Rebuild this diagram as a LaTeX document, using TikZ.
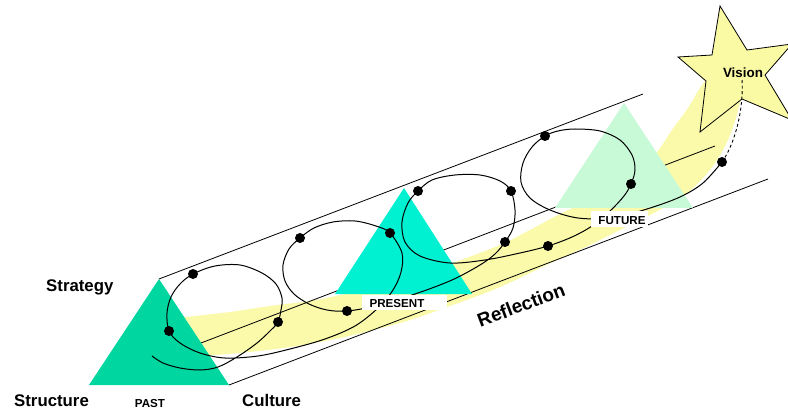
\documentclass[tikz,border=0pt]{standalone}
\usepackage{fontspec}
\setmainfont{Liberation Sans}
\definecolor{bandyellow}{RGB}{250,250,170}
\definecolor{staryellow}{RGB}{250,250,165}
\definecolor{pastgreen}{RGB}{0,214,160}
\definecolor{presentcyan}{RGB}{0,240,210}
\definecolor{futuremint}{RGB}{200,250,215}
\tikzset{
  prismline/.style={black, line width=0.8pt},
  coil/.style={black, line width=1pt},
  blackdot/.style={circle, fill=black, inner sep=0pt, minimum size=10pt},
  biglabel/.style={font=\bfseries\fontsize{16.8}{19}\selectfont, inner sep=0pt},
  smalllabel/.style={font=\bfseries\fontsize{11.6}{13}\selectfont, inner sep=0pt},
  whitebox/.style={fill=white}
}
\begin{document}
\begin{tikzpicture}[x=1pt,y=-1pt]
\clip (0,0) rectangle (788,409);
\fill[white] (0,0) rectangle (788,409);

% yellow reflection band
\fill[bandyellow]
  plot[smooth, tension=0.6] coordinates {(150,324) (187,317) (230,312) (270,306) (310,301) (345,294) (400,281) (450,264) (500,245) (530,230) (560,214) (590,200) (620,183) (640,168) (657,152) (672,130) (688,108) (700,88) (712,72)}
  -- (745,90)
  -- plot[smooth, tension=0.6] coordinates {(740,102) (736,118) (728,140) (717,160) (703,178) (683,196) (650,215) (620,230) (590,245) (557,260) (500,287) (447,307) (400,323) (340,338) (290,347) (240,353) (200,356) (165,358)}
  -- cycle;

% prism: hidden middle edge and bottom edge
\coordinate (midA) at (201,343);
\coordinate (midB) at (715,146);
\coordinate (botA) at (229,385);
\coordinate (botB) at (768,179);
\draw[prismline] (midA) -- (midB);
\draw[prismline] (botA) -- (botB);

% triangles
\fill[pastgreen] (159,279) -- (89,385) -- (229,385) -- cycle;
\fill[presentcyan] (404,188) -- (335,294) -- (472,294) -- cycle;
\fill[futuremint] (624,103) -- (555,208) -- (693,208) -- cycle;

% top edge
\coordinate (topA) at (159,279);
\coordinate (topB) at (643,94);
\draw[prismline] (topA) -- (topB);

% dots
\coordinate (D1) at (193,274);
\coordinate (D2) at (169,331);
\coordinate (D3) at (278,322);
\coordinate (D4) at (300,238);
\coordinate (D5) at (390,233);
\coordinate (D6) at (347,311);
\coordinate (D7) at (418,191);
\coordinate (D8) at (511,191);
\coordinate (D9) at (505,242);
\coordinate (D10) at (545,136);
\coordinate (D11) at (631,184);
\coordinate (D12) at (548,246);
\coordinate (D13) at (722,162);

% the coil
\draw[coil] plot[smooth, tension=0.55] coordinates {
  (152,356) (163,363) (180,368) (200,370) (218,367) (237,357) (257,343) (271,330)
  (D3) (281,310) (282,298) (276,284) (262,273) (240,265) (215,266)
  (D1) (180,284) (171,297) (167,313)
  (D2) (180,343) (200,353) (225,358) (258,356) (290,349) (325,339) (355,326) (378,308) (393,290) (401,272) (402,253)
  (D5) (376,226) (355,221) (333,222) (314,228)
  (D4) (289,249) (283,265) (285,281) (294,294) (309,304) (327,310)
  (D6) (375,306) (415,294) (452,280) (480,265) (495,254)
  (D9) (513,228) (515,210)
  (D8) (500,181) (480,175) (455,175) (432,180)
  (D7) (408,203) (402,222) (405,242) (420,256) (450,263) (485,260) (520,253)
  (D12) (572,237) (592,226) (610,211) (624,196)
  (D11) (635,170) (632,155) (620,140) (600,131) (575,129) (558,131)
  (D10) (532,147) (523,163) (521,182) (530,198) (550,210) (578,218) (612,218) (647,209) (680,197) (703,183)
  (D13)};

\foreach \d in {D1,D2,D3,D4,D5,D6,D7,D8,D9,D10,D11,D12,D13}
  \node[blackdot] at (\d) {};

% label boxes
\fill[whitebox] (362,295) rectangle (447,310);
\fill[whitebox] (591,211) rectangle (648,227);
\node[smalllabel] (present) at (397,304) {PRESENT};
\node[smalllabel] (future) at (622,220.5) {FUTURE};

% star
\fill[staryellow, draw=black, line width=0.8pt]
  (720,6) -- (747,50) -- (792,44) -- (765,75) -- (792,120) -- (742,99)
  -- (700,132) -- (706,81) -- (678,57) -- (712,55) -- cycle;
\coordinate (visionend) at (742,78);
\draw[black, line width=0.9pt, dashed, dash pattern=on 3pt off 2.5pt]
  (D13) .. controls (734,145) and (744,112) .. (visionend);
\node[font=\bfseries\fontsize{13.4}{15}\selectfont, inner sep=0pt] (vision) at (743,73) {Vision};

% labels
\node[biglabel, anchor=base west] (strategy) at (46,291) {Strategy};
\node[biglabel, anchor=base west] (structure) at (14,406.5) {Structure};
\node[smalllabel, anchor=base] (past) at (150,407) {PAST};
\node[biglabel, anchor=base west] (culture) at (242,406.5) {Culture};
\node[font=\bfseries\fontsize{19}{21}\selectfont, inner sep=0pt, rotate=20.7] (reflection) at (521,305) {Reflection};
\end{tikzpicture}
\end{document}
